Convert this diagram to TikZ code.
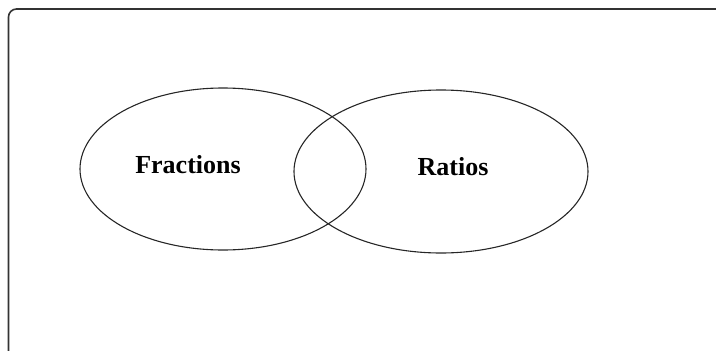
\documentclass[tikz,border=0pt]{standalone}
\usepackage{fontspec}
\setmainfont{Liberation Serif}
\usetikzlibrary{shapes.geometric}

\begin{document}
\begin{tikzpicture}[x=1pt, y=-1pt, every node/.style={font=\fontsize{26}{30}\selectfont\bfseries},
	venn/.style={draw, ellipse, line width=1.1pt, inner sep=0pt, black!85}]
	\useasboundingbox (0,0) rectangle (716,351);
	\draw[line width=1.6pt, black!80, rounded corners=8pt] (8.5,352) -- (8.5,9) -- (717,9);
	\node[venn, minimum width=286pt, minimum height=162pt] (fractions) at (223,169) {};
	\node[venn, minimum width=294pt, minimum height=163pt] (ratios) at (441,171.5) {};
	\node at ([shift={(-35,-4)}]fractions.center) {Fractions};
	\node at ([shift={(12,-4.5)}]ratios.center) {Ratios};
\end{tikzpicture}
\end{document}
